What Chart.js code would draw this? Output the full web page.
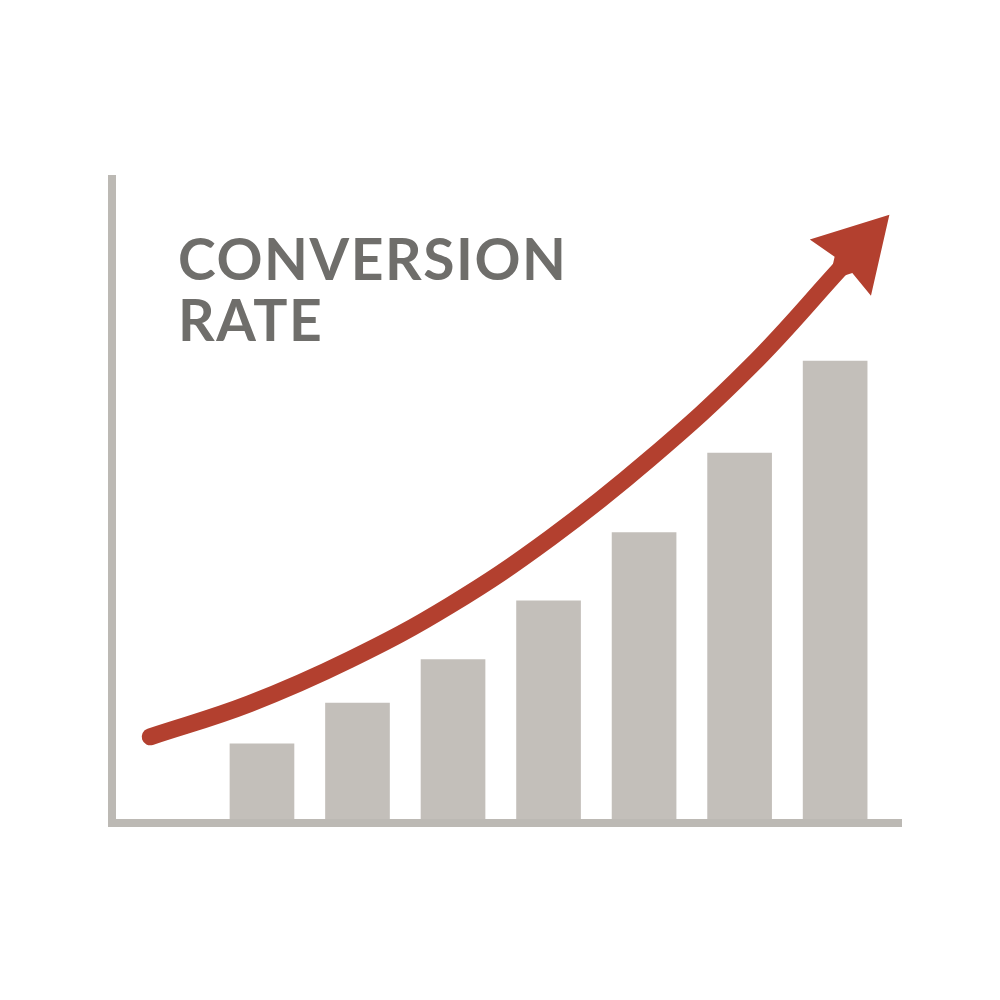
<!DOCTYPE html>
<html>
<head>
<meta charset="utf-8">
<script src="https://cdn.jsdelivr.net/npm/chart.js@4.4.1/dist/chart.umd.min.js"></script>
<style>
  html, body { margin: 0; padding: 0; background: #fff; }
  #wrap { width: 1000px; height: 1000px; }
</style>
</head>
<body>
<div id="wrap"><canvas id="convChart" width="1000" height="1000"></canvas></div>
<script>
// bars: period index and conversion rate (%)
const periods = [1, 2, 3, 4, 5, 6, 7];
const rates = [1.22, 1.85, 2.52, 3.43, 4.48, 5.71, 7.13];

// trend arrow
const trendX = [-0.17, 0.87, 1.92, 2.97, 4.02, 5.06, 6.11, 7.08];
const trendY = [1.33, 1.84, 2.52, 3.36, 4.40, 5.62, 7.04, 8.60];

const titleLines = ['CONVERSION', 'RATE'];

const BAR = '#c3bfba';
const AXIS = '#bcb9b4';
const RED = '#b3402f';
const TEXT = '#6f6e6b';

const decor = {
  id: 'decor',
  afterDatasetsDraw(chart) {
    const { ctx, chartArea: a } = chart;
    ctx.save();

    // axes
    ctx.strokeStyle = AXIS;
    ctx.lineWidth = 8;
    ctx.lineCap = 'butt';
    ctx.beginPath();
    ctx.moveTo(a.left, a.top);
    ctx.lineTo(a.left, a.bottom + 4);
    ctx.moveTo(a.left - 4, a.bottom);
    ctx.lineTo(a.right, a.bottom);
    ctx.stroke();

    // arrow head at end of trend line
    const pts = chart.getDatasetMeta(1).data;
    const end = pts[pts.length - 1];
    const prev = pts[pts.length - 2];
    const ang = Math.atan2(end.y - prev.y, end.x - prev.x);
    ctx.translate(end.x, end.y);
    ctx.rotate(ang);
    ctx.fillStyle = RED;
    ctx.beginPath();
    ctx.moveTo(69, 0);
    ctx.lineTo(-3, 41);
    ctx.lineTo(1, 12);
    ctx.lineTo(-6, 8);
    ctx.lineTo(-6, -8);
    ctx.lineTo(1, -12);
    ctx.lineTo(-3, -42);
    ctx.closePath();
    ctx.fill();
    ctx.setTransform(1, 0, 0, 1, 0, 0);

    // title text inside the plot
    ctx.fillStyle = TEXT;
    ctx.font = '700 57px Lato';
    ctx.textBaseline = 'alphabetic';
    ctx.letterSpacing = '0px';
    const w = ctx.measureText(titleLines[0]).width;
    const sp = (388 - w) / (titleLines[0].length - 1);
    ctx.letterSpacing = sp + 'px';
    ctx.fillText(titleLines[0], 178, 280);
    ctx.fillText(titleLines[1], 178, 341);
    ctx.restore();
  }
};

new Chart(document.getElementById('convChart').getContext('2d'), {
  type: 'bar',
  data: {
    datasets: [{
      type: 'bar',
      data: periods.map((p, i) => ({ x: p, y: rates[i] })),
      backgroundColor: BAR,
      borderWidth: 0,
      barThickness: 64,
      order: 2
    }, {
      type: 'line',
      data: trendX.map((x, i) => ({ x, y: trendY[i] })),
      borderColor: RED,
      borderWidth: 17,
      borderCapStyle: 'round',
      tension: 0.4,
      pointRadius: 0,
      fill: false,
      clip: false,
      order: 1
    }]
  },
  options: {
    responsive: false,
    animation: false,
    layout: { padding: { left: 112, right: 98, top: 175, bottom: 177 } },
    scales: {
      x: { type: 'linear', min: -0.57, max: 7.70, offset: false, display: false },
      y: { min: 0, max: 10, display: false }
    },
    plugins: {
      legend: { display: false },
      tooltip: { enabled: false }
    }
  },
  plugins: [decor]
});
</script>
</body>
</html>
